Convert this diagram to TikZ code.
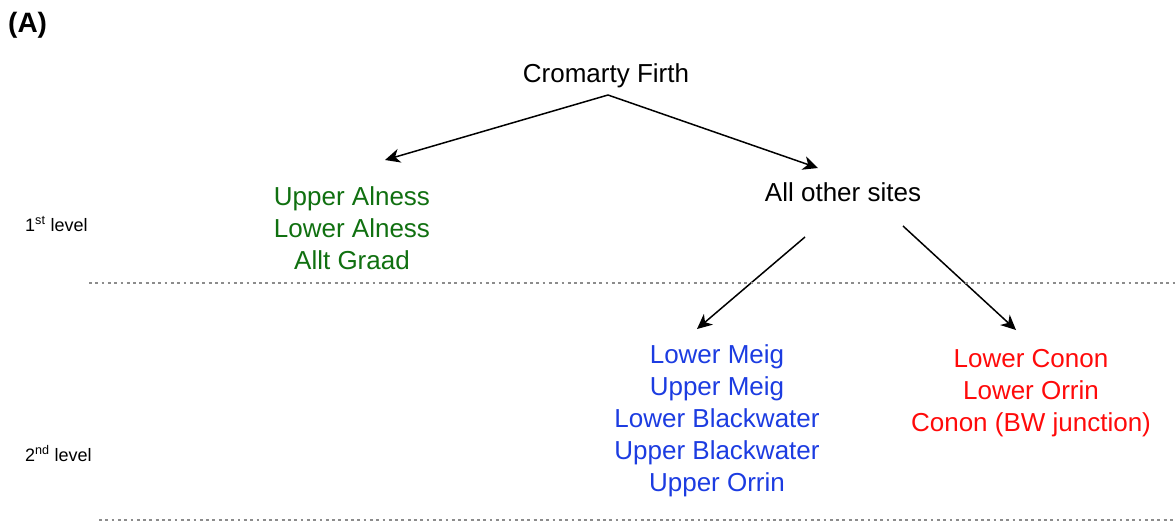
\documentclass[tikz,border=0pt]{standalone}
\usepackage{fontspec}
\setmainfont{Liberation Sans}
\usetikzlibrary{arrows.meta}
\definecolor{sitegreen}{RGB}{16,112,16}
\definecolor{siteblue}{RGB}{28,60,225}
\definecolor{sitered}{RGB}{255,10,10}
\definecolor{levelgray}{RGB}{140,140,140}
\tikzset{
  % multi-line nodes: the base anchor sits on the last line's baseline
  site/.style={inner sep=0pt, align=center, anchor=base,
    font=\fontsize{26}{32}\selectfont},
  lvl/.style={inner sep=0pt, anchor=base west, font=\fontsize{18}{20}\selectfont},
  arr/.style={line width=1.5pt, -{Stealth[length=15pt,width=14pt,inset=4.5pt]}},
  sep/.style={levelgray, line width=2.8pt, dash pattern=on 2.8pt off 3.5pt}
}
\begin{document}
\begin{tikzpicture}[x=1pt,y=-1pt]
\useasboundingbox (0,0) rectangle (1175,523);

\node[inner sep=0pt, anchor=base west, font=\bfseries\fontsize{28}{30}\selectfont] (tag) at (8,32) {(A)};

% tree nodes
\node[site] (cf) at (606,82) {Cromarty Firth};
\node[site] (other) at (843,201) {All other sites};
\node[site, text=sitegreen] (alness) at (352,269) {Upper Alness\\Lower Alness\\Allt Graad};
\node[site, text=siteblue] (meig) at (717,491) {Lower Meig\\Upper Meig\\Lower Blackwater\\Upper Blackwater\\Upper Orrin};
\node[site, text=sitered] (conon) at (1031,431) {Lower Conon\\Lower Orrin\\Conon (BW junction)};

% level labels
\node[lvl] (lvl1) at (25,231) {1\textsuperscript{st} level};
\node[lvl] (lvl2) at (25,461) {2\textsuperscript{nd} level};

% connector end points
\coordinate (cf-out) at (608,95);
\coordinate (alness-in) at (385,160);
\coordinate (other-in) at (818,168);
\coordinate (other-outl) at (805,237);
\coordinate (other-outr) at (903,226);
\coordinate (meig-in) at (697,329);
\coordinate (conon-in) at (1016,330);

\draw[arr] (cf-out) -- (alness-in);
\draw[arr] (cf-out) -- (other-in);
\draw[arr] (other-outl) -- (meig-in);
\draw[arr] (other-outr) -- (conon-in);

% level separators
\coordinate (sep1a) at (89,283);
\coordinate (sep1b) at (1175,283);
\coordinate (sep2a) at (99,520);
\coordinate (sep2b) at (1175,520);
\draw[sep] (sep1a) -- (sep1b);
\draw[sep] (sep2a) -- (sep2b);
\end{tikzpicture}
\end{document}
